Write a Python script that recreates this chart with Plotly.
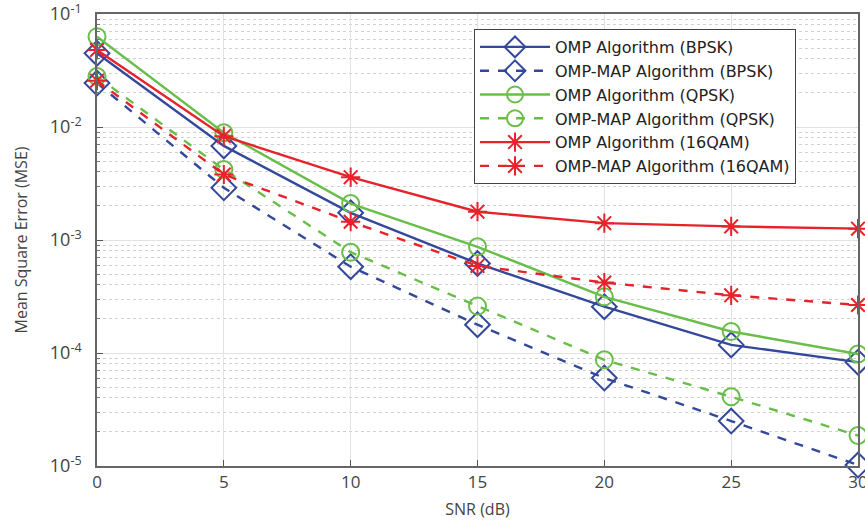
import plotly.graph_objects as go

snr = [0, 5, 10, 15, 20, 25, 30]
omp_bpsk = [0.045, 0.0068, 0.00174, 0.00062, 0.000257, 0.000118, 0.000083]
map_bpsk = [0.0245, 0.0029, 0.00058, 0.000178, 0.000060, 0.0000250, 0.0000102]
omp_qpsk = [0.063, 0.0089, 0.0021, 0.00087, 0.000314, 0.000155, 0.000098]
map_qpsk = [0.028, 0.0042, 0.00078, 0.00026, 0.000087, 0.000041, 0.0000186]
omp_16qam = [0.048, 0.0083, 0.0036, 0.00178, 0.00141, 0.00132, 0.00126]
map_16qam = [0.0257, 0.0038, 0.00145, 0.00059, 0.00042, 0.000324, 0.000266]

names = ["OMP Algorithm (BPSK)", "OMP-MAP Algorithm (BPSK)",
         "OMP Algorithm (QPSK)", "OMP-MAP Algorithm (QPSK)",
         "OMP Algorithm (16QAM)", "OMP-MAP Algorithm (16QAM)"]
series = [omp_bpsk, map_bpsk, omp_qpsk, map_qpsk, omp_16qam, map_16qam]

ytick_vals = [1e-5, 1e-4, 1e-3, 1e-2, 1e-1]
ytick_text = ["10<sup>-5</sup>", "10<sup>-4</sup>", "10<sup>-3</sup>", "10<sup>-2</sup>", "10<sup>-1</sup>"]
minor_vals = [m * 10.0 ** e for e in range(-5, -1) for m in range(2, 10)]

blue = "#33489B"
green = "#68BE49"
red = "#E6222A"
styles = [
    (blue, "solid", "diamond-open", 19),
    (blue, "dash", "diamond-open", 19),
    (green, "solid", "circle-open", 17),
    (green, "dash", "circle-open", 17),
    (red, "solid", "asterisk-open", 16),
    (red, "dash", "asterisk-open", 16),
]

fig = go.Figure()
for name, vals, (c, d, sym, sz) in zip(names, series, styles):
    fig.add_trace(go.Scatter(
        x=snr, y=vals, name=name, mode="lines+markers",
        line=dict(color=c, width=2.4, dash=d),
        marker=dict(symbol=sym, size=sz, color=c, line=dict(color=c, width=2)),
        cliponaxis=False,
    ))

L, R, T, B = 97, 858, 14, 466
fig.update_layout(
    width=865, height=525,
    margin=dict(l=L, r=865 - R, t=T, b=525 - B, autoexpand=False),
    paper_bgcolor="white", plot_bgcolor="white",
    font=dict(family="Open Sans, Noto Sans, sans-serif", color="#444", size=14),
    legend=dict(
        x=(474 - L) / (R - L), y=(B - 29) / (B - T), xref="paper", yref="paper",
        xanchor="left", yanchor="top",
        bordercolor="#444", borderwidth=1, bgcolor="white",
        font=dict(family="DejaVu Sans, Open Sans, sans-serif", size=16, color="#222"),
        itemwidth=70, tracegroupgap=0,
    ),
    showlegend=True,
)

fig.update_xaxes(
    range=[0, 30], tickvals=snr, ticks="inside", ticklen=6, tickcolor="#555",
    showgrid=True, gridcolor="#E2E2E2", gridwidth=1,
    showline=True, linecolor="#666", linewidth=1.5, mirror=True,
    zeroline=False, automargin=False, ticklabeloverflow="allow",
    title=dict(text="SNR (dB)", font=dict(size=16, color="#444"), standoff=12),
    tickfont=dict(size=17, color="#444"),
)
fig.update_yaxes(
    type="log", range=[-5, -1], tickmode="array", tickvals=ytick_vals, ticktext=ytick_text,
    ticks="inside", ticklen=6, tickcolor="#555",
    showgrid=True, gridcolor="#E2E2E2", gridwidth=1,
    minor=dict(tickmode="array", tickvals=minor_vals, showgrid=True, gridcolor="#D0D0D0",
               griddash="dot", ticks="inside", ticklen=3, tickcolor="#777"),
    showline=True, linecolor="#666", linewidth=1.5, mirror=True,
    zeroline=False, automargin=False, ticklabeloverflow="allow", ticklabelstandoff=10,
    title=dict(text="Mean Square Error (MSE)", font=dict(size=16, color="#444"), standoff=18),
    tickfont=dict(size=18, color="#444"),
)

fig.write_html(
    "out.html",
    config={"displayModeBar": False},
    post_script="document.body.style.margin='0';document.body.style.overflow='hidden';",
)
